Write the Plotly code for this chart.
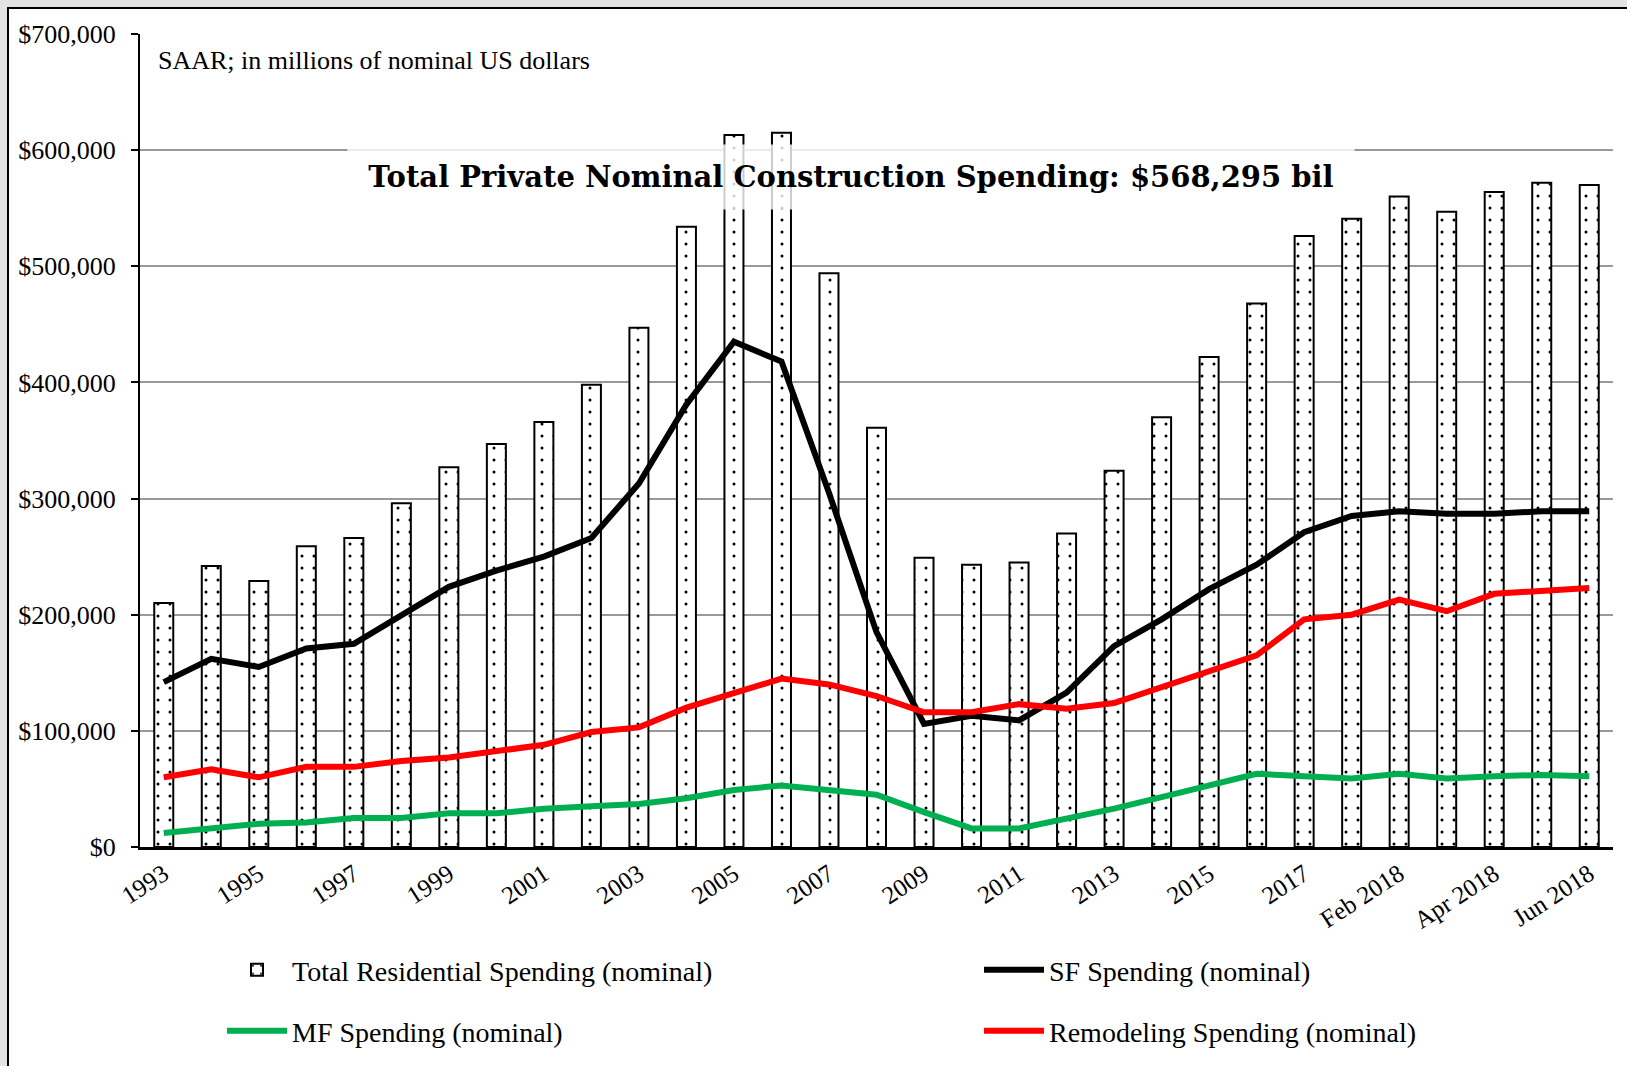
import plotly.graph_objects as go

categories = [str(y) for y in range(1993, 2018)] + [
    "Jan 2018", "Feb 2018", "Mar 2018", "Apr 2018", "May 2018", "Jun 2018"]

total_residential = [210000, 242000, 229000, 259000, 266000, 296000, 327000, 347000,
                     366000, 398000, 447000, 534000, 613000, 615000, 494000, 361000,
                     249000, 243000, 245000, 270000, 324000, 370000, 422000, 468000,
                     526000, 541000, 560000, 547000, 564000, 572000, 570000]

sf_spending = [142000, 162000, 155000, 171000, 175000, 200000, 224000, 238000,
               250000, 266000, 313000, 381000, 435000, 418000, 305000, 185000,
               106000, 113000, 109000, 133000, 173000, 196000, 222000, 243000,
               271000, 285000, 289000, 287000, 287000, 289000, 289000]

mf_spending = [12000, 16000, 20000, 21000, 25000, 25000, 29000, 29000,
               33000, 35000, 37000, 42000, 49000, 53000, 49000, 45000,
               30000, 16000, 16000, 24000, 33000, 43000, 53000, 63000,
               61000, 59000, 63000, 59000, 61000, 62000, 61000]

remodeling = [60000, 67000, 60000, 69000, 69000, 74000, 77000, 82000,
              88000, 99000, 103000, 120000, 133000, 145000, 140000, 130000,
              116000, 116000, 123000, 119000, 124000, 138000, 151000, 165000,
              196000, 200000, 213000, 203000, 218000, 221000, 223000]

tick_labels = categories[::2]
y_ticks = [0, 100000, 200000, 300000, 400000, 500000, 600000, 700000]
y_tick_text = ["${:,}".format(v) for v in y_ticks]

title_text = "Total Private Nominal Construction Spending: $568,295 bil"
subtitle_text = "SAAR; in millions of nominal US dollars"

SERIF = "Liberation Serif, Times New Roman, serif"

W, H = 1627, 1066
L, R, T, B = 140, 14, 34, 219
pw = W - L - R
ph = H - T - B


def px_x(x):
    return (x - L) / pw


def px_y(y):
    return (H - B - y) / ph


fig = go.Figure()

fig.add_trace(go.Bar(
    x=categories, y=total_residential, name="Total Residential Spending (nominal)",
    width=0.4, showlegend=True,
    marker=dict(color="white",
                line=dict(color="black", width=2),
                pattern=dict(shape=".", fgcolor="black", bgcolor="white",
                             size=12, solidity=0.05, fillmode="replace")),
    legend="legend",
))
fig.add_trace(go.Scatter(
    x=categories, y=sf_spending, name="SF Spending (nominal)", mode="lines",
    line=dict(color="black", width=6), legend="legend2", showlegend=True,
))
fig.add_trace(go.Scatter(
    x=categories, y=mf_spending, name="MF Spending (nominal)", mode="lines",
    line=dict(color="#00B050", width=6), legend="legend3", showlegend=True,
))
fig.add_trace(go.Scatter(
    x=categories, y=remodeling, name="Remodeling Spending (nominal)", mode="lines",
    line=dict(color="#FF0000", width=6), legend="legend4", showlegend=True,
))

# white frame with black border
fig.add_shape(type="rect", xref="paper", yref="paper",
              x0=px_x(8), x1=px_x(1650), y0=px_y(1090), y1=px_y(8),
              fillcolor="white", line=dict(color="black", width=2), layer="below")

fig.add_annotation(xref="paper", yref="paper", x=px_x(156), y=px_y(60),
                   xanchor="left", yanchor="middle", showarrow=False,
                   text=subtitle_text, font=dict(family=SERIF, size=26, color="black"))

fig.add_annotation(xref="paper", yref="paper", x=px_x(851), y=px_y(177),
                   xanchor="center", yanchor="middle", showarrow=False,
                   text=title_text, width=1004, height=62,
                   bgcolor="rgba(255,255,255,0.8)",
                   font=dict(family="DejaVu Serif, serif", size=29, color="black",
                             weight="bold"))


def legend_at(x_px, y_px):
    return dict(orientation="h", xref="container", yref="container",
                x=x_px / W, y=1 - y_px / H, xanchor="left", yanchor="middle",
                itemwidth=60, font=dict(family=SERIF, size=28, color="black"),
                bgcolor="rgba(0,0,0,0)", visible=True)


fig.update_layout(
    width=W, height=H, autosize=False, showlegend=True,
    margin=dict(l=L, r=R, t=T, b=B, pad=0, autoexpand=False),
    paper_bgcolor="#e3e3e3", plot_bgcolor="rgba(0,0,0,0)",
    font=dict(family=SERIF, color="black", size=24),
    legend=legend_at(222, 970),
    legend2=legend_at(979, 970),
    legend3=legend_at(222, 1031),
    legend4=legend_at(979, 1031),
    xaxis=dict(type="category", categoryorder="array", categoryarray=categories,
               tickmode="array", tickvals=tick_labels, ticktext=tick_labels,
               tickangle=-33, showgrid=False, showline=True, linecolor="black",
               linewidth=2.5, ticks="", tickfont=dict(family=SERIF, size=25, color="black"),
               range=[-0.5, len(categories) - 0.5]),
    yaxis=dict(range=[0, 700000], tickmode="array", tickvals=y_ticks, ticktext=y_tick_text,
               showgrid=True, gridcolor="#999999",
               gridwidth=2, showline=True, linecolor="black", linewidth=2,
               ticks="outside", ticklen=7, tickwidth=2, tickcolor="black",
               ticklabelstandoff=10, zeroline=False,
               tickfont=dict(family=SERIF, size=26, color="black")),
)

fig.write_html("out.html", config={"displayModeBar": False},
               post_script="document.body.style.margin='0';document.body.style.overflow='hidden';")
